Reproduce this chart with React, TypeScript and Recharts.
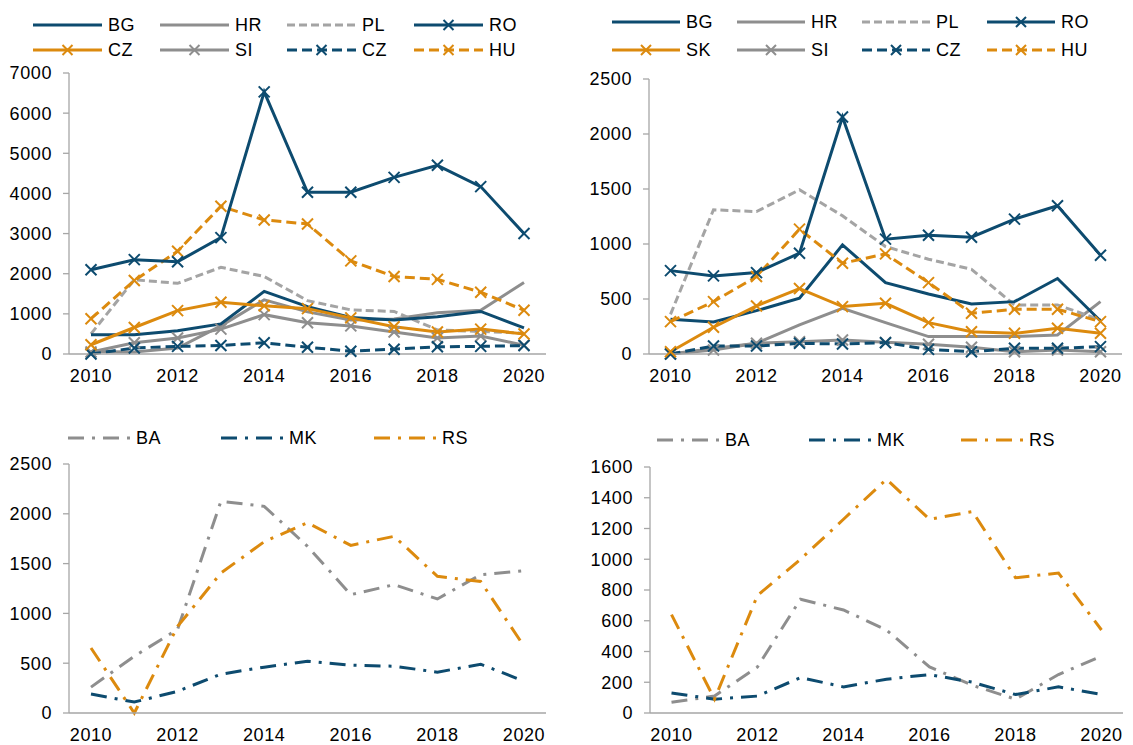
import { LineChart, Line, XAxis, YAxis } from 'recharts'

const YEARS = ['2010', '2011', '2012', '2013', '2014', '2015', '2016', '2017', '2018', '2019', '2020']

// top left panel
const tlBG = [480, 480, 580, 750, 1560, 1180, 910, 850, 930, 1060, 650]
const tlHR = [60, 50, 150, 700, 1350, 1050, 850, 870, 1030, 1090, 1780]
const tlPL = [500, 1850, 1760, 2160, 1930, 1330, 1100, 1060, 600, 560, 520]
const tlRO = [2100, 2350, 2300, 2900, 6530, 4030, 4030, 4400, 4700, 4170, 3000]
const tlCZ = [230, 660, 1080, 1290, 1200, 1130, 900, 680, 550, 620, 500]
const tlSI = [50, 280, 400, 620, 980, 780, 700, 550, 400, 450, 220]
const tlCZ2 = [0, 150, 190, 210, 280, 170, 70, 120, 180, 190, 210]
const tlHU = [880, 1830, 2560, 3680, 3340, 3240, 2320, 1930, 1860, 1540, 1090]
const tlTicks = [0, 1000, 2000, 3000, 4000, 5000, 6000, 7000]

// top right panel
const trBG = [316, 291, 394, 507, 992, 649, 546, 455, 476, 686, 300]
const trHR = [0, 50, 97, 264, 416, 285, 158, 158, 158, 173, 476]
const trPL = [360, 1311, 1295, 1493, 1256, 977, 862, 770, 446, 446, 310]
const trRO = [758, 710, 740, 916, 2154, 1044, 1080, 1062, 1226, 1347, 898]
const trSK = [21, 243, 437, 595, 431, 461, 285, 203, 188, 234, 188]
const trSI = [0, 36, 97, 112, 127, 106, 88, 61, 21, 36, 21]
const trCZ = [0, 73, 73, 97, 91, 103, 42, 21, 52, 52, 67]
const trHU = [294, 476, 704, 1135, 825, 910, 649, 370, 407, 407, 294]
const trTicks = [0, 500, 1000, 1500, 2000, 2500]

// bottom left panel
const blBA = [260, 570, 840, 2125, 2075, 1673, 1188, 1288, 1145, 1389, 1429]
const blMK = [190, 110, 218, 390, 460, 520, 480, 470, 410, 490, 320]
const blRS = [653, 0, 870, 1405, 1720, 1910, 1683, 1774, 1372, 1320, 670]
const blTicks = [0, 500, 1000, 1500, 2000, 2500]

// bottom right panel
const brBA = [70, 110, 300, 740, 670, 540, 300, 180, 90, 250, 370]
const brMK = [130, 90, 110, 230, 170, 220, 250, 200, 120, 170, 120]
const brRS = [640, 90, 765, 1000, 1260, 1520, 1260, 1310, 880, 910, 540]
const brTicks = [0, 200, 400, 600, 800, 1000, 1200, 1400, 1600]

const BLUE = '#0d4b6f'
const ORANGE = '#dc8a0e'
const GRAY = '#8e8e8e'
const LIGHT_GRAY = '#a4a4a4'
const AXIS = '#a6a6a6'
const FONT = '"Liberation Sans", Arial, sans-serif'
const FONT_SIZE = 18

const DASH = '10 5'
const SHORT_DASH = '8 4'
const DASH_DOT = '16 8 3 8'

type Series = {
  key: string
  name: string
  color: string
  dash?: string
  marker?: boolean
}

const topLeftSeries: Series[] = [
  { key: 'HR', name: 'HR', color: GRAY },
  { key: 'SI', name: 'SI', color: GRAY, marker: true },
  { key: 'PL', name: 'PL', color: LIGHT_GRAY, dash: SHORT_DASH },
  { key: 'CZ2', name: 'CZ', color: BLUE, dash: DASH, marker: true },
  { key: 'BG', name: 'BG', color: BLUE },
  { key: 'CZ', name: 'CZ', color: ORANGE, marker: true },
  { key: 'HU', name: 'HU', color: ORANGE, dash: DASH, marker: true },
  { key: 'RO', name: 'RO', color: BLUE, marker: true },
]
const topRightSeries: Series[] = [
  { key: 'HR', name: 'HR', color: GRAY },
  { key: 'SI', name: 'SI', color: GRAY, marker: true },
  { key: 'PL', name: 'PL', color: LIGHT_GRAY, dash: SHORT_DASH },
  { key: 'CZ', name: 'CZ', color: BLUE, dash: DASH, marker: true },
  { key: 'BG', name: 'BG', color: BLUE },
  { key: 'SK', name: 'SK', color: ORANGE, marker: true },
  { key: 'HU', name: 'HU', color: ORANGE, dash: DASH, marker: true },
  { key: 'RO', name: 'RO', color: BLUE, marker: true },
]
const bottomSeries: Series[] = [
  { key: 'BA', name: 'BA', color: GRAY, dash: DASH_DOT },
  { key: 'MK', name: 'MK', color: BLUE, dash: DASH_DOT },
  { key: 'RS', name: 'RS', color: ORANGE, dash: DASH_DOT },
]

// legend order as in the picture (two rows of four)
const topLeftLegend = ['BG', 'HR', 'PL', 'RO', 'CZ', 'SI', 'CZ2', 'HU']
const topRightLegend = ['BG', 'HR', 'PL', 'RO', 'SK', 'SI', 'CZ', 'HU']
const bottomLegend = ['BA', 'MK', 'RS']

const topLeftData = YEARS.map((year, i) => ({
  year,
  BG: tlBG[i],
  HR: tlHR[i],
  PL: tlPL[i],
  RO: tlRO[i],
  CZ: tlCZ[i],
  SI: tlSI[i],
  CZ2: tlCZ2[i],
  HU: tlHU[i],
}))
const topRightData = YEARS.map((year, i) => ({
  year,
  BG: trBG[i],
  HR: trHR[i],
  PL: trPL[i],
  RO: trRO[i],
  SK: trSK[i],
  SI: trSI[i],
  CZ: trCZ[i],
  HU: trHU[i],
}))
const bottomLeftData = YEARS.map((year, i) => ({ year, BA: blBA[i], MK: blMK[i], RS: blRS[i] }))
const bottomRightData = YEARS.map((year, i) => ({ year, BA: brBA[i], MK: brMK[i], RS: brRS[i] }))

const tickStyle = { fill: '#000', fontSize: FONT_SIZE, fontFamily: FONT, letterSpacing: 0.6 }

function crossDot(color: string, size = 5.5) {
  return (props: any) => {
    const { cx, cy, index } = props
    if (cx == null || cy == null) return <g key={`n-${index}`} />
    return (
      <path
        key={`x-${index}`}
        d={`M${cx - size},${cy - size}L${cx + size},${cy + size}M${cx + size},${cy - size}L${cx - size},${cy + size}`}
        stroke={color}
        strokeWidth={2}
        strokeDasharray="none"
        fill="none"
      />
    )
  }
}

function LegendBlock({
  series,
  order,
  left,
  top,
  perRow,
  step,
  rowGap,
  lineLen,
}: {
  series: Series[]
  order: string[]
  left: number
  top: number
  perRow: number
  step: number
  rowGap: number
  lineLen: number
}) {
  return (
    <>
      {order.map((key, i) => {
        const s = series.find((d) => d.key === key)!
        const x = left + (i % perRow) * step
        const y = top + Math.floor(i / perRow) * rowGap
        const mid = lineLen / 2
        return (
          <div
            key={key + i}
            style={{ position: 'absolute', left: x, top: y - 11, height: 22, display: 'flex', alignItems: 'center' }}
          >
            <svg width={lineLen} height={22} style={{ display: 'block' }}>
              <line
                x1={0}
                y1={11}
                x2={lineLen}
                y2={11}
                stroke={s.color}
                strokeWidth={3}
                strokeDasharray={s.dash}
              />
              {s.marker && (
                <path
                  d={`M${mid - 5},6L${mid + 5},16M${mid + 5},6L${mid - 5},16`}
                  stroke={s.color}
                  strokeWidth={2}
                  fill="none"
                />
              )}
            </svg>
            <span
              style={{
                marginLeft: 6,
                fontSize: FONT_SIZE,
                fontFamily: FONT,
                letterSpacing: 0.6,
                color: '#000',
                lineHeight: '22px',
              }}
            >
              {s.name}
            </span>
          </div>
        )
      })}
    </>
  )
}

function Panel({
  data,
  series,
  ticks,
  left,
  top,
  width,
  height,
  yWidth,
  marginTop,
  marginRight,
  marginBottom,
  pad,
}: {
  data: any[]
  series: Series[]
  ticks: number[]
  left: number
  top: number
  width: number
  height: number
  yWidth: number
  marginTop: number
  marginRight: number
  marginBottom: number
  pad: number
}) {
  return (
    <div style={{ position: 'absolute', left, top, width, height }}>
      <LineChart
        width={width}
        height={height}
        data={data}
        margin={{ top: marginTop, right: marginRight, bottom: marginBottom, left: 0 }}
      >
        <XAxis
          dataKey="year"
          interval={1}
          tickLine={false}
          tickSize={0}
          tickMargin={15}
          height={30}
          padding={{ left: pad, right: pad }}
          axisLine={{ stroke: AXIS, strokeWidth: 1.3 }}
          tick={tickStyle}
        />
        <YAxis
          domain={[ticks[0], ticks[ticks.length - 1]]}
          ticks={ticks}
          interval={0}
          width={yWidth}
          tickSize={6}
          tickMargin={11}
          tickLine={{ stroke: AXIS, strokeWidth: 1.3 }}
          axisLine={{ stroke: AXIS, strokeWidth: 1.3 }}
          tick={tickStyle}
        />
        {series.map((s) => (
          <Line
            key={s.key}
            type="linear"
            dataKey={s.key}
            name={s.name}
            stroke={s.color}
            strokeWidth={3}
            strokeDasharray={s.dash}
            dot={s.marker ? crossDot(s.color) : false}
            activeDot={false}
            isAnimationActive={false}
          />
        ))}
      </LineChart>
    </div>
  )
}

export default function App() {
  return (
    <div style={{ position: 'absolute', left: 0, top: 0, width: 1133, height: 745, background: '#fff', overflow: 'hidden' }}>
      <LegendBlock series={topLeftSeries} order={topLeftLegend} left={33} top={25} perRow={4} step={127} rowGap={25} lineLen={69} />
      <Panel
        data={topLeftData}
        series={topLeftSeries}
        ticks={tlTicks}
        left={0}
        top={60}
        width={566}
        height={330}
        yWidth={69}
        marginTop={13}
        marginRight={20}
        marginBottom={6}
        pad={22}
      />

      <LegendBlock series={topRightSeries} order={topRightLegend} left={612} top={22} perRow={4} step={125} rowGap={28} lineLen={68} />
      <Panel
        data={topRightData}
        series={topRightSeries}
        ticks={trTicks}
        left={570}
        top={60}
        width={563}
        height={330}
        yWidth={79}
        marginTop={19}
        marginRight={11}
        marginBottom={6}
        pad={21.5}
      />

      <LegendBlock series={bottomSeries} order={bottomLegend} left={68} top={438} perRow={3} step={153} rowGap={0} lineLen={62} />
      <Panel
        data={bottomLeftData}
        series={bottomSeries}
        ticks={blTicks}
        left={0}
        top={450}
        width={566}
        height={295}
        yWidth={69}
        marginTop={14}
        marginRight={20}
        marginBottom={2}
        pad={22}
      />

      <LegendBlock series={bottomSeries} order={bottomLegend} left={657} top={440} perRow={3} step={152} rowGap={0} lineLen={62} />
      <Panel
        data={bottomRightData}
        series={bottomSeries}
        ticks={brTicks}
        left={570}
        top={450}
        width={563}
        height={295}
        yWidth={80}
        marginTop={17}
        marginRight={10}
        marginBottom={2}
        pad={21.5}
      />
    </div>
  )
}
